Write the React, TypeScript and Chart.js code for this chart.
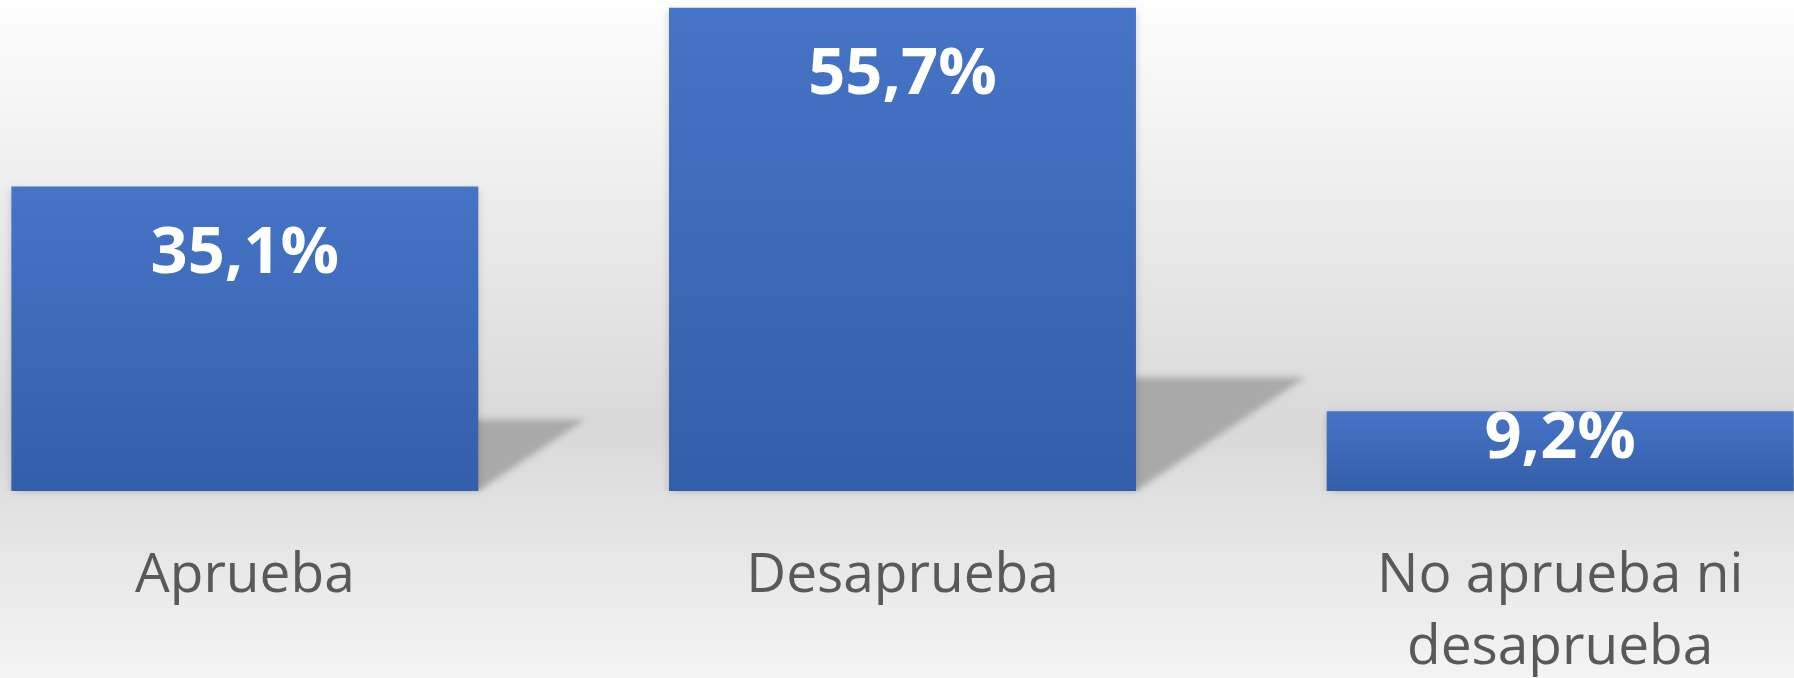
import React, { useEffect, useRef } from 'react';
import { Chart, registerables } from 'chart.js';

Chart.register(...registerables);

const categories: string[][] = [['Aprueba'], ['Desaprueba'], ['No aprueba ni', 'desaprueba']];
const values: number[] = [35.1, 55.7, 9.2];
const yMax = 56.6;

const formatValue = (v: number) => v.toFixed(1).replace('.', ',') + '%';

const VIEW_H = 678;

const bgPlugin = {
  id: 'bgGradient',
  beforeDraw(chart: any) {
    const { ctx, width } = chart;
    const g = ctx.createLinearGradient(0, 0, 0, VIEW_H);
    g.addColorStop(0, '#fefefe');
    g.addColorStop(0.63, '#d9d9d9');
    g.addColorStop(1, '#f4f4f4');
    ctx.save();
    ctx.fillStyle = g;
    ctx.fillRect(0, 0, width, chart.height);
    ctx.restore();
  },
};

const decorPlugin = {
  id: 'decor',
  beforeDatasetsDraw(chart: any) {
    const ctx = chart.ctx;
    const meta = chart.getDatasetMeta(0);
    ctx.save();
    ctx.filter = 'blur(3px)';
    ctx.fillStyle = '#a9a9a9';
    meta.data.forEach((bar: any) => {
      const { x, y, base, width } = bar.getProps(['x', 'y', 'base', 'width'], true);
      const left = x - width / 2;
      const right = x + width / 2;
      const h = base - y;
      ctx.beginPath();
      ctx.moveTo(left, base);
      ctx.lineTo(right, base);
      ctx.lineTo(right + 0.35 * h, base - 0.235 * h);
      ctx.lineTo(left + 0.35 * h, base - 0.235 * h);
      ctx.closePath();
      ctx.fill();
    });
    ctx.restore();
  },
  beforeDatasetDraw(chart: any) {
    const ctx = chart.ctx;
    ctx.save();
    ctx.shadowColor = 'rgba(0,0,0,0.18)';
    ctx.shadowBlur = 8;
    ctx.shadowOffsetY = 3;
  },
  afterDatasetDraw(chart: any) {
    chart.ctx.restore();
  },
  afterDatasetsDraw(chart: any) {
    const ctx = chart.ctx;
    const meta = chart.getDatasetMeta(0);
    ctx.save();
    ctx.fillStyle = '#ffffff';
    ctx.font = "bold 65px 'Open Sans', sans-serif";
    ctx.textAlign = 'center';
    ctx.textBaseline = 'alphabetic';
    meta.data.forEach((bar: any, i: number) => {
      const { x, y, base } = bar.getProps(['x', 'y', 'base'], true);
      const baseline = Math.min(y + 86, base - 33);
      ctx.fillText(formatValue(values[i]), x, baseline);
    });
    ctx.restore();
  },
};

export default function App() {
  const ref = useRef<HTMLCanvasElement | null>(null);

  useEffect(() => {
    if (!ref.current) return;
    const chart = new Chart(ref.current, {
      type: 'bar',
      data: {
        labels: categories,
        datasets: [
          {
            data: values,
            backgroundColor: (c: any) => {
              const ch = c.chart;
              const ys = ch.scales && ch.scales.y;
              if (!ys || c.dataIndex === undefined) return '#4472C4';
              const top = ys.getPixelForValue(values[c.dataIndex]);
              const base = ys.getPixelForValue(0);
              if (!isFinite(top) || !isFinite(base) || top === base) return '#4472C4';
              const g = ch.ctx.createLinearGradient(0, top, 0, base);
              g.addColorStop(0, '#4674C6');
              g.addColorStop(1, '#335EA9');
              return g;
            },
            borderWidth: 0,
            barPercentage: 0.71,
            categoryPercentage: 1,
          },
        ],
      },
      options: {
        animation: false,
        responsive: true,
        maintainAspectRatio: false,
        layout: { padding: 0 },
        plugins: {
          legend: { display: false },
          tooltip: { enabled: false },
          title: { display: false },
        },
        scales: {
          x: {
            grid: { display: false, drawTicks: false },
            border: { display: false },
            ticks: {
              color: '#595959',
              padding: 49,
              maxRotation: 0,
              autoSkip: false,
              font: { family: "'Open Sans', sans-serif", size: 55, lineHeight: 72 / 55 },
            },
          },
          y: {
            display: false,
            min: 0,
            max: yMax,
          },
        },
      },
      plugins: [bgPlugin, decorPlugin],
    });
    return () => chart.destroy();
  }, []);

  return (
    <div style={{ position: 'fixed', left: 0, top: 0, width: 1794, height: VIEW_H, overflow: 'hidden' }}>
      <div style={{ position: 'absolute', left: -84, top: 0, width: 1973, height: 733 }}>
        <canvas ref={ref} />
      </div>
    </div>
  );
}
